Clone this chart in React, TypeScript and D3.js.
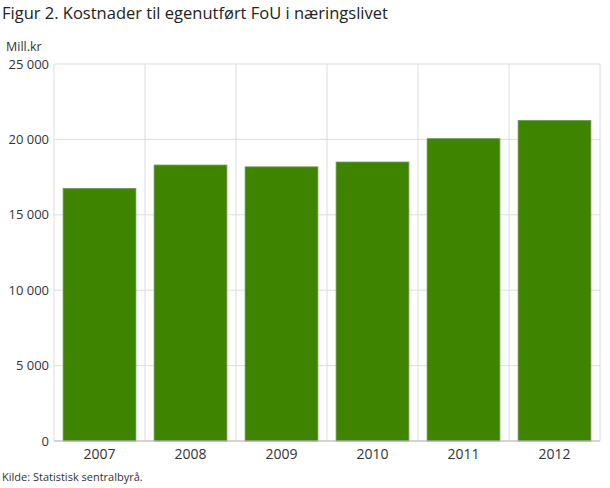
import React from "react";
import * as d3 from "d3";

const years = ["2007", "2008", "2009", "2010", "2011", "2012"];
const costs = [16750, 18300, 18180, 18500, 20050, 21260];
const yTicks = [0, 5000, 10000, 15000, 20000, 25000];

const W = 610;
const H = 488;
const margin = { top: 64, right: 10, bottom: 47, left: 54 };
const font = "'Open Sans', sans-serif";

const fmt = (v: number) => d3.format(",")(v).replace(/,/g, " ");

export default function App() {
  const innerW = W - margin.left - margin.right;
  const innerH = H - margin.top - margin.bottom;

  const x = d3
    .scaleBand<string>()
    .domain(years)
    .range([0, innerW])
    .paddingInner(0.2)
    .paddingOuter(0.1);
  const y = d3.scaleLinear().domain([0, 25000]).range([innerH, 0]);
  const step = x.step();

  return (
    <svg
      width={W}
      height={H}
      style={{ position: "absolute", left: 0, top: 0, fontFamily: font }}
    >
      <rect width={W} height={H} fill="#fff" />
      <text x={2} y={19} fontSize={16.5} fill="#222">
        Figur 2. Kostnader til egenutført FoU i næringslivet
      </text>
      <text x={6} y={51} fontSize={12.5} fill="#333">
        Mill.kr
      </text>
      <g transform={`translate(${margin.left},${margin.top})`}>
        {/* horizontal grid */}
        {yTicks.map((t) => (
          <g key={t}>
            <line
              x1={0}
              x2={innerW}
              y1={y(t)}
              y2={y(t)}
              stroke="#dcdcdc"
              strokeWidth={1}
            />
            <text
              x={-5}
              y={y(t)}
              dy="0.35em"
              textAnchor="end"
              fontSize={13}
              fill="#333"
            >
              {fmt(t)}
            </text>
          </g>
        ))}
        {/* vertical category separators */}
        {d3.range(years.length + 1).map((i) => (
          <line
            key={i}
            x1={i * step}
            x2={i * step}
            y1={0}
            y2={innerH}
            stroke="#dcdcdc"
            strokeWidth={1}
          />
        ))}
        {years.map((yr, i) => (
          <rect
            key={yr}
            x={x(yr)}
            y={y(costs[i])}
            width={x.bandwidth()}
            height={innerH - y(costs[i])}
            fill="#3f8400"
            stroke="#6f9a55"
            strokeWidth={0.8}
          />
        ))}
        <line x1={0} x2={innerW} y1={innerH} y2={innerH} stroke="#bbb" />
        {years.map((yr) => (
          <text
            key={yr}
            x={(x(yr) ?? 0) + x.bandwidth() / 2}
            y={innerH + 18}
            textAnchor="middle"
            fontSize={14}
            fill="#333"
          >
            {yr}
          </text>
        ))}
      </g>
      <text x={2} y={481} fontSize={11} fill="#333">
        Kilde: Statistisk sentralbyrå.
      </text>
    </svg>
  );
}
